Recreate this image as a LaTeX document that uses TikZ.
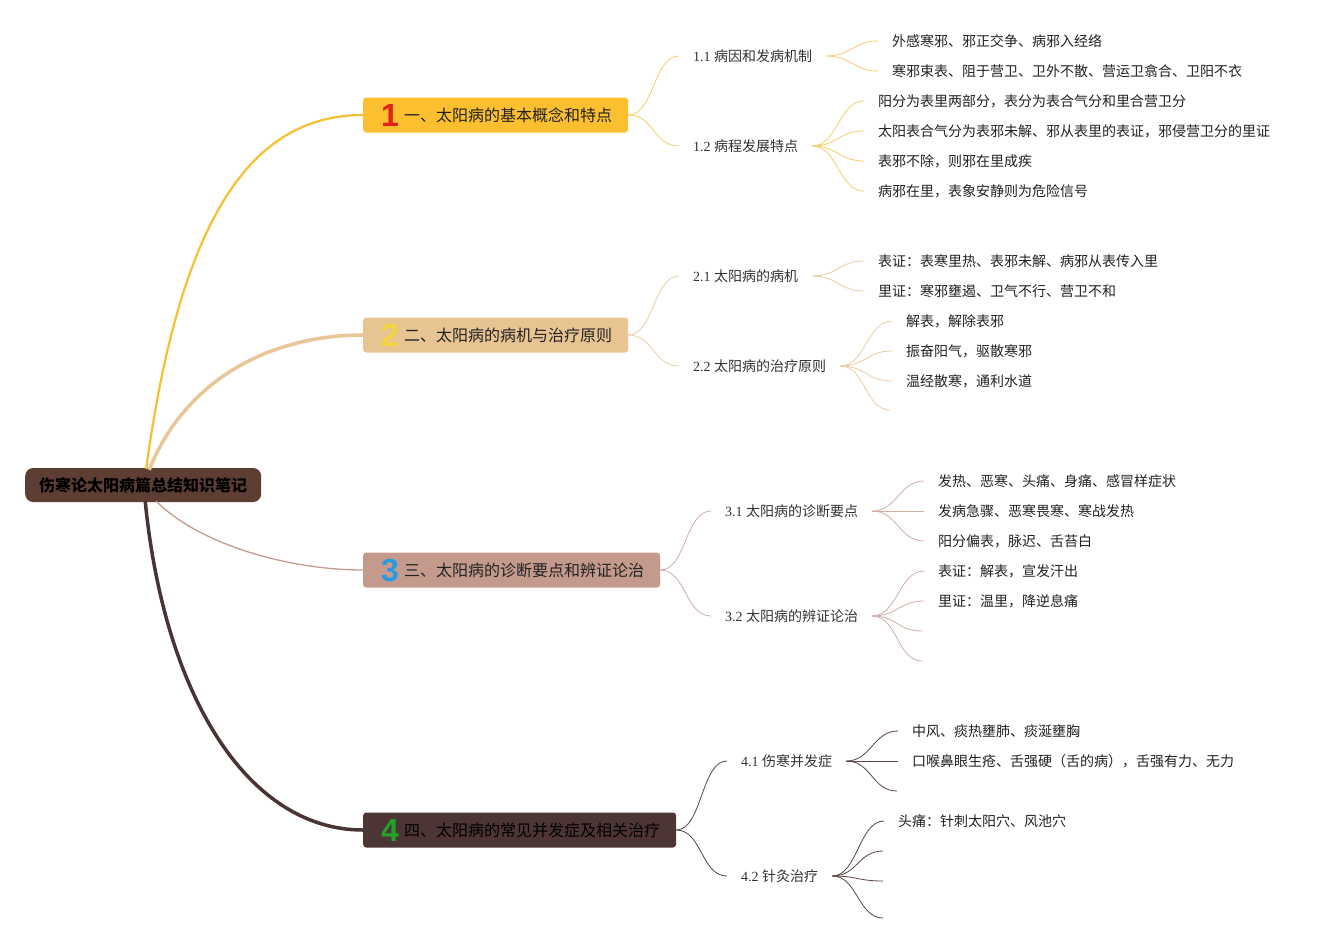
\documentclass[tikz,border=0pt]{standalone}
\usepackage{fontspec}
\setmainfont{Noto Sans CJK SC}
\newfontfamily\latn{Liberation Serif}
\newfontfamily\numf{Liberation Sans}
\usetikzlibrary{calc}
\definecolor{rootc}{HTML}{5E3E33}
\definecolor{bA}{HTML}{FBBF30}
\definecolor{bB}{HTML}{E8C492}
\definecolor{bC}{HTML}{C49A8C}
\definecolor{bD}{HTML}{4D3535}
\definecolor{lA}{HTML}{F7C033}
\definecolor{lB}{HTML}{E9C698}
\definecolor{lC}{HTML}{C19C90}
\definecolor{lD}{HTML}{4A3333}
\definecolor{sA}{HTML}{F6CD6A}
\definecolor{sB}{HTML}{EBCDA5}
\definecolor{sC}{HTML}{CFAEA4}
\definecolor{sD}{HTML}{5B4545}
\definecolor{nA}{HTML}{E2231A}
\definecolor{nB}{HTML}{F4D63C}
\definecolor{nC}{HTML}{2A9AE0}
\definecolor{nD}{HTML}{22A22B}
\definecolor{txt}{HTML}{222222}
\definecolor{subtxt}{HTML}{333333}
\newcommand{\bignum}[2]{\smash{\raisebox{-5.5pt}{\numf\bfseries\fontsize{32}{32}\selectfont\color{#1}#2}}}
\newcommand{\lt}[1]{{\latn #1}}
\begin{document}
\begin{tikzpicture}[x=1pt,y=-1pt,
  rootbox/.style={fill=rootc, rounded corners=8pt, text=black, font=\bfseries\fontsize{16}{18}\selectfont, minimum height=34pt, inner xsep=14pt, inner ysep=0pt, anchor=west},
  branchbox/.style={rounded corners=3pt, minimum height=35pt, inner xsep=0pt, inner ysep=0pt, text height=12pt, text depth=0pt, anchor=west, font=\fontsize{16}{18}\selectfont, text=txt},
  subnode/.style={anchor=west, inner xsep=14pt, inner ysep=2pt, font=\fontsize{14}{16}\selectfont, text=subtxt},
  leafnode/.style={anchor=west, inner xsep=14pt, inner ysep=2pt, font=\fontsize{14}{16}\selectfont, text=txt},
  subline/.style={draw=#1, line width=0.8pt},
  fanline/.style={draw=#1, line width=0.8pt}
]
\useasboundingbox (0,0) rectangle (1330,945);
\fill[white] (0,0) rectangle (1330,945);

% root
\node[rootbox] (root) at (25,485) {伤寒论太阳病篇总结知识笔记};

% branches
\node[branchbox, fill=bA] (b1) at (363,115) {\hspace*{18pt}\bignum{nA}{1}\hspace{5pt}一、太阳病的基本概念和特点\hspace*{16pt}};
\node[branchbox, fill=bB] (b2) at (363,335) {\hspace*{18pt}\bignum{nB}{2}\hspace{5pt}二、太阳病的病机与治疗原则\hspace*{16pt}};
\node[branchbox, fill=bC] (b3) at (363,570) {\hspace*{18pt}\bignum{nC}{3}\hspace{5pt}三、太阳病的诊断要点和辨证论治\hspace*{16pt}};
\node[branchbox, fill=bD, text=black] (b4) at (363,830) {\hspace*{18pt}\bignum{nD}{4}\hspace{5pt}四、太阳病的常见并发症及相关治疗\hspace*{16pt}};

% root connectors
\draw[draw=lA, line width=2.2pt] ($(root.north)+(3,1)$) .. controls (180,220) and (250,115) .. (b1.west);
\draw[draw=lB, line width=3.5pt] ($(root.north)+(6,2)$) .. controls (185,380) and (270,335) .. (b2.west);
\draw[draw=lC, line width=1.3pt] ($(root.south)+(13,-1)$) .. controls (200,545) and (290,570) .. (b3.west);
\draw[draw=lD, line width=3.5pt] ($(root.south)+(2,-1)$) .. controls (165,700) and (250,830) .. (b4.west);

% subtopics
\node[subnode] (s11) at (679,56) {\lt{1.1 }病因和发病机制};
\node[subnode] (s12) at (679,146) {\lt{1.2 }病程发展特点};
\node[subnode] (s21) at (679,276) {\lt{2.1 }太阳病的病机};
\node[subnode] (s22) at (679,366) {\lt{2.2 }太阳病的治疗原则};
\node[subnode] (s31) at (711,511) {\lt{3.1 }太阳病的诊断要点};
\node[subnode] (s32) at (711,616) {\lt{3.2 }太阳病的辨证论治};
\node[subnode] (s41) at (727,761) {\lt{4.1 }伤寒并发症};
\node[subnode] (s42) at (727,876) {\lt{4.2 }针灸治疗};

\foreach \b/\s/\c in {b1/s11/sA, b1/s12/sA, b2/s21/sB, b2/s22/sB, b3/s31/sC, b3/s32/sC, b4/s41/sD, b4/s42/sD}
  \draw[subline=\c] (\b.east) .. controls +(26,0) and +(-26,0) .. (\s.west);

% leaves
\node[leafnode] (l111) at (878,41) {外感寒邪、邪正交争、病邪入经络};
\node[leafnode] (l112) at (878,71) {寒邪束表、阻于营卫、卫外不散、营运卫翕合、卫阳不衣};
\node[leafnode] (l121) at (864,101) {阳分为表里两部分，表分为表合气分和里合营卫分};
\node[leafnode] (l122) at (864,131) {太阳表合气分为表邪未解、邪从表里的表证，邪侵营卫分的里证};
\node[leafnode] (l123) at (864,161) {表邪不除，则邪在里成疾};
\node[leafnode] (l124) at (864,191) {病邪在里，表象安静则为危险信号};
\node[leafnode] (l211) at (864,261) {表证：表寒里热、表邪未解、病邪从表传入里};
\node[leafnode] (l212) at (864,291) {里证：寒邪壅遏、卫气不行、营卫不和};
\node[leafnode] (l221) at (892,321) {解表，解除表邪};
\node[leafnode] (l222) at (892,351) {振奋阳气，驱散寒邪};
\node[leafnode] (l223) at (892,381) {温经散寒，通利水道};
\coordinate (l224) at (890,410);
\node[leafnode] (l311) at (924,481) {发热、恶寒、头痛、身痛、感冒样症状};
\node[leafnode] (l312) at (924,511) {发病急骤、恶寒畏寒、寒战发热};
\node[leafnode] (l313) at (924,541) {阳分偏表，脉迟、舌苔白};
\node[leafnode] (l321) at (924,571) {表证：解表，宣发汗出};
\node[leafnode] (l322) at (924,601) {里证：温里，降逆息痛};
\coordinate (l323) at (922,631);
\coordinate (l324) at (922,661);
\node[leafnode] (l411) at (898,731) {中风、痰热壅肺、痰涎壅胸};
\node[leafnode] (l412) at (898,761) {口喉鼻眼生疮、舌强硬（舌的病），舌强有力、无力};
\coordinate (l413) at (897,791);
\node[leafnode] (l421) at (884,821) {头痛：针刺太阳穴、风池穴};
\coordinate (l422) at (883,851);
\coordinate (l423) at (883,881);
\coordinate (l424) at (883,918);

\foreach \s/\l/\c in {s11/l111/sA, s11/l112/sA, s12/l121/sA, s12/l122/sA, s12/l123/sA, s12/l124/sA,
  s21/l211/sB, s21/l212/sB, s22/l221/sB, s22/l222/sB, s22/l223/sB,
  s31/l311/sC, s31/l312/sC, s31/l313/sC, s32/l321/sC, s32/l322/sC,
  s41/l411/sD, s41/l412/sD, s42/l421/sD}
  \draw[fanline=\c] (\s.east) .. controls +(25,0) and +(-25,0) .. (\l.west);
\foreach \s/\l/\c in {s22/l224/sB, s32/l323/sC, s32/l324/sC, s41/l413/sD, s42/l422/sD, s42/l423/sD, s42/l424/sD}
  \draw[fanline=\c] (\s.east) .. controls +(25,0) and +(-25,0) .. (\l);
\end{tikzpicture}
\end{document}
